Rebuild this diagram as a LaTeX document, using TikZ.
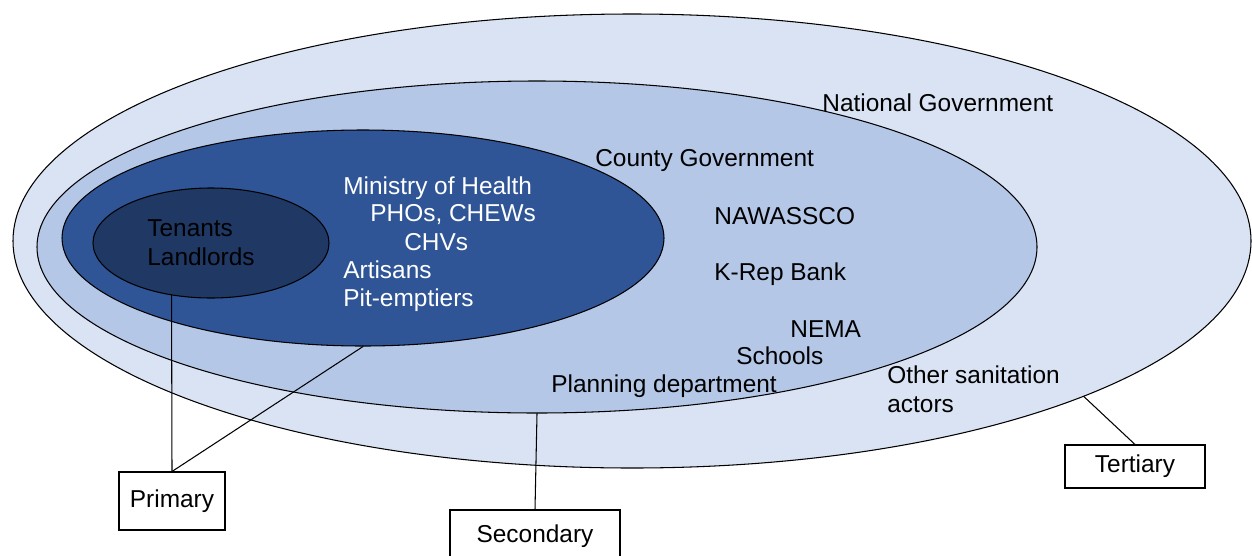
\documentclass[tikz,border=0pt]{standalone}
\usepackage{fontspec}
\setmainfont{Liberation Sans}
\usetikzlibrary{shapes.geometric}

\definecolor{tertfill}{RGB}{218,227,243}
\definecolor{secfill}{RGB}{180,199,231}
\definecolor{primfill}{RGB}{47,85,151}
\definecolor{corefill}{RGB}{31,56,100}

\begin{document}
\begin{tikzpicture}[line cap=round,
  ring/.style={ellipse, draw=black, line width=0.6pt, inner sep=0pt},
  actor/.style={anchor=base west, inner sep=0pt, font=\fontsize{13.9}{16.5}\selectfont},
  tag/.style={draw=black, line width=0.6pt, inner sep=0pt, font=\fontsize{13.9}{16.5}\selectfont}]
  \useasboundingbox (0,0) rectangle (25.04,11.1);
  % ===== nested stakeholder rings =====
  \node[ring, fill=tertfill, minimum width=24.76cm, minimum height=9.08cm] (tertring) at (12.64,6.28) {};
  \node[ring, fill=secfill, minimum width=20cm, minimum height=6.64cm] (secring) at (10.74,6.16) {};
  \node[ring, fill=primfill, minimum width=12.04cm, minimum height=4.32cm] (primring) at (7.26,6.34) {};
  \node[ring, fill=corefill, minimum width=4.72cm, minimum height=2.2cm] (corering) at (4.22,6.24) {};
  % core
  \node[actor] (tenants) at (2.94,6.38) {Tenants};
  \node[actor] (landlords) at (2.94,5.80) {Landlords};
  % primary ring (white text)
  \node[actor, white] (moh) at (6.86,7.22) {Ministry of Health};
  \node[actor, white] (phos) at (7.40,6.68) {PHOs, CHEWs};
  \node[actor, white] (chvs) at (8.08,6.10) {CHVs};
  \node[actor, white] (artisans) at (6.86,5.54) {Artisans};
  \node[actor, white] (pitemp) at (6.86,4.98) {Pit-emptiers};
  % secondary ring
  \node[actor] (county) at (11.90,7.78) {County Government};
  \node[actor] (nawassco) at (14.28,6.62) {NAWASSCO};
  \node[actor] (krep) at (14.28,5.50) {K-Rep Bank};
  \node[actor] (nema) at (15.80,4.36) {NEMA};
  \node[actor] (schools) at (14.72,3.82) {Schools};
  \node[actor] (planning) at (11.02,3.26) {Planning department};
  % tertiary ring
  \node[actor] (natgov) at (16.44,8.88) {National Government};
  \node[actor] (othersan) at (17.74,3.44) {Other sanitation};
  \node[actor] (othersanb) at (17.74,2.86) {actors};
  % ===== level tags =====
  \node[tag, minimum width=2.12cm, minimum height=1.16cm] (primbox) at (3.44,1.08) {Primary};
  \node[tag, minimum width=3.4cm, minimum height=1.04cm] (secbox) at (10.70,0.38) {Secondary};
  \node[tag, minimum width=2.8cm, minimum height=0.86cm] (tertbox) at (22.70,1.77) {Tertiary};
  % leader lines
  \draw[line width=0.6pt] (corering.233.1) -- (primbox.north);
  \draw[line width=0.6pt] (primring.south) -- (primbox.north);
  \draw[line width=0.6pt] (secring.south) -- (secbox.north);
  \draw[line width=0.6pt] (tertring.-19.5) -- (tertbox.north);
\end{tikzpicture}
\end{document}
